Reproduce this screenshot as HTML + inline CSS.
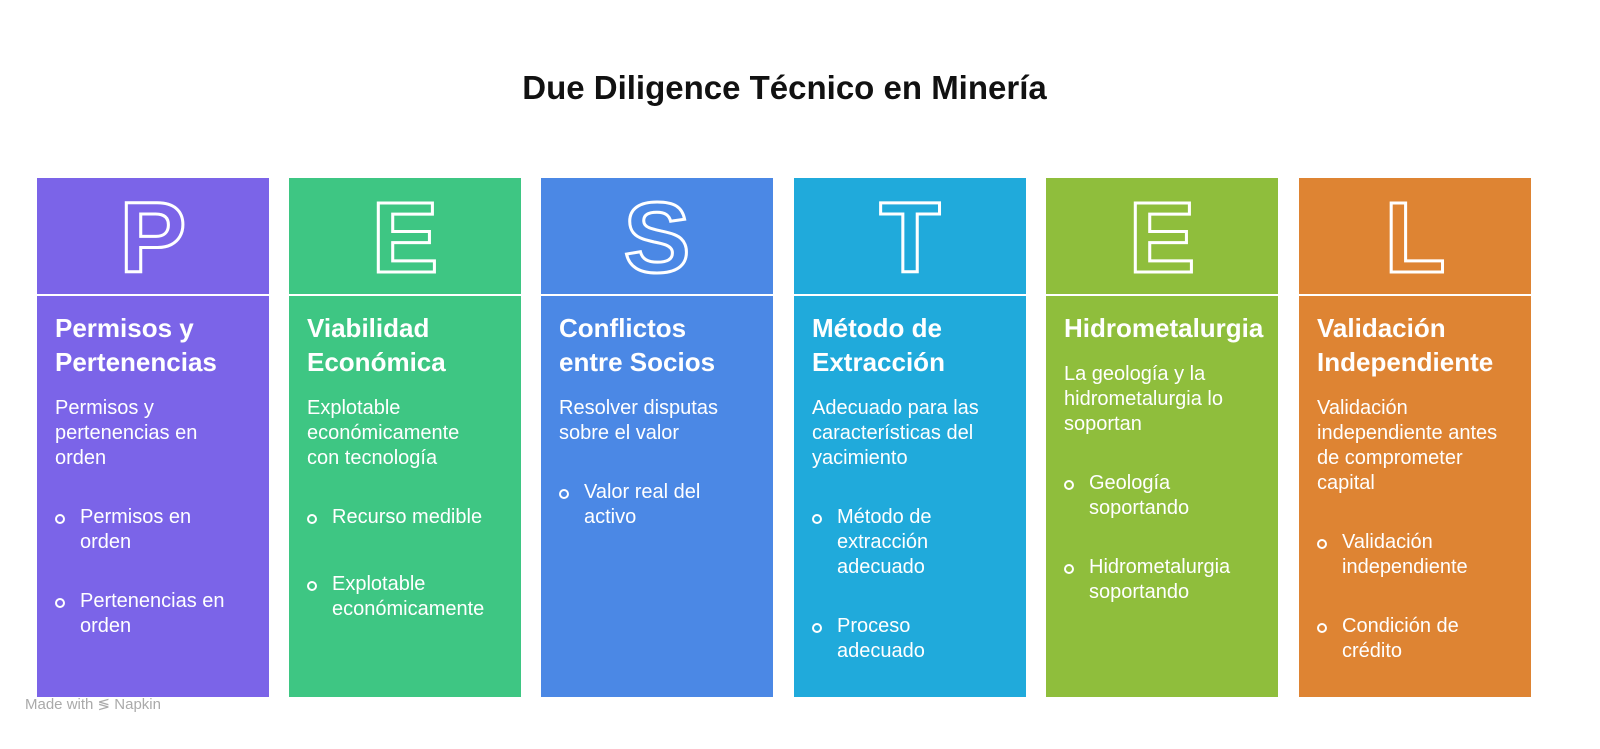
<!DOCTYPE html>
<html><head><meta charset="utf-8"><style>
body{margin:0;width:1600px;height:749px;background:#fff;position:relative;font-family:"Liberation Sans",sans-serif;overflow:hidden}
.h1{position:absolute;top:69px;left:0;width:1569px;text-align:center;font-size:33px;font-weight:bold;color:#111}
.col{position:absolute;top:178px;width:232px;height:519px}
.top{position:absolute;left:0;top:0;width:232px;height:116px;display:flex;align-items:center;justify-content:center;font-size:100px;font-weight:bold;color:transparent;-webkit-text-stroke:3px #fff;line-height:1;padding-top:4px;box-sizing:border-box}
.bot{position:absolute;left:0;top:118px;width:232px;height:401px}
.t{position:absolute;left:18px;color:#fff;font-size:26px;font-weight:bold;line-height:34px;white-space:nowrap}
.d{position:absolute;left:18px;color:#fff;font-size:20px;line-height:25px;white-space:nowrap}
.b{position:absolute;left:43px;color:#fff;font-size:20px;line-height:25px;white-space:nowrap}
.b:before{content:"";position:absolute;left:-25px;top:9px;width:6px;height:6px;border:2px solid #fff;border-radius:50%}
.wm{position:absolute;left:25px;top:695px;font-size:15px;color:#aaa}
</style></head><body>
<div class="h1">Due Diligence Técnico en Minería</div>

<div class="col" style="left:37px"><div class="top" style="background:#7B64E8">P</div><div class="bot" style="background:#7B64E8"></div>
<div class="t" style="top:133px">Permisos y<br>Pertenencias</div>
<div class="d" style="top:218px">Permisos y<br>pertenencias en<br>orden</div>
<div class="b" style="top:327px">Permisos en<br>orden</div>
<div class="b" style="top:411px">Pertenencias en<br>orden</div></div>

<div class="col" style="left:289px"><div class="top" style="background:#3EC683">E</div><div class="bot" style="background:#3EC683"></div>
<div class="t" style="top:133px">Viabilidad<br>Económica</div>
<div class="d" style="top:218px">Explotable<br>económicamente<br>con tecnología</div>
<div class="b" style="top:327px">Recurso medible</div>
<div class="b" style="top:394px">Explotable<br>económicamente</div></div>

<div class="col" style="left:541px"><div class="top" style="background:#4B88E5">S</div><div class="bot" style="background:#4B88E5"></div>
<div class="t" style="top:133px">Conflictos<br>entre Socios</div>
<div class="d" style="top:218px">Resolver disputas<br>sobre el valor</div>
<div class="b" style="top:302px">Valor real del<br>activo</div></div>

<div class="col" style="left:794px"><div class="top" style="background:#20AADB">T</div><div class="bot" style="background:#20AADB"></div>
<div class="t" style="top:133px">Método de<br>Extracción</div>
<div class="d" style="top:218px">Adecuado para las<br>características del<br>yacimiento</div>
<div class="b" style="top:327px">Método de<br>extracción<br>adecuado</div>
<div class="b" style="top:436px">Proceso<br>adecuado</div></div>

<div class="col" style="left:1046px"><div class="top" style="background:#8FBE3C">E</div><div class="bot" style="background:#8FBE3C"></div>
<div class="t" style="top:133px">Hidrometalurgia</div>
<div class="d" style="top:184px">La geología y la<br>hidrometalurgia lo<br>soportan</div>
<div class="b" style="top:293px">Geología<br>soportando</div>
<div class="b" style="top:377px">Hidrometalurgia<br>soportando</div></div>

<div class="col" style="left:1299px"><div class="top" style="background:#DE8433">L</div><div class="bot" style="background:#DE8433"></div>
<div class="t" style="top:133px">Validación<br>Independiente</div>
<div class="d" style="top:218px">Validación<br>independiente antes<br>de comprometer<br>capital</div>
<div class="b" style="top:352px">Validación<br>independiente</div>
<div class="b" style="top:436px">Condición de<br>crédito</div></div>

<div class="wm">Made with ≶ Napkin</div>
</body></html>
